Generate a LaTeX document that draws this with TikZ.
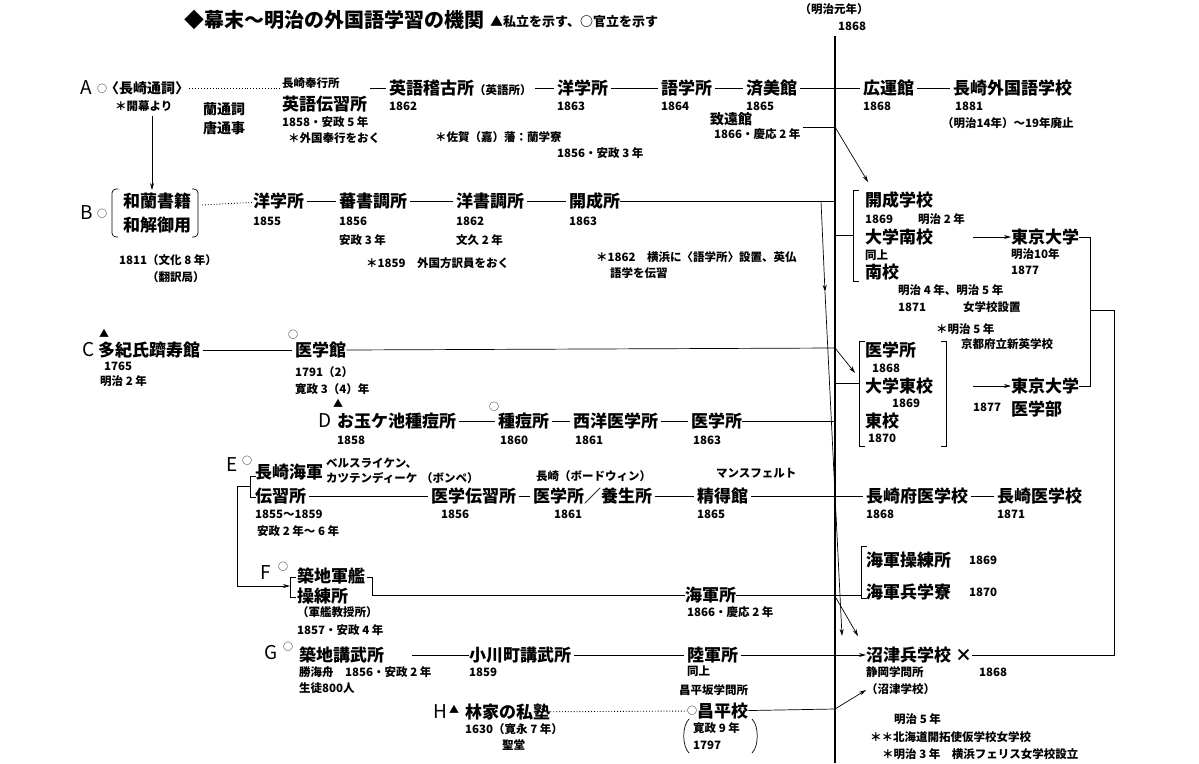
\documentclass[tikz,border=0pt]{standalone}
\usepackage{fontspec}
\setmainfont{Noto Sans CJK JP}
\usetikzlibrary{arrows.meta}

\newcommand\ftitle{\fontsize{20}{20}\selectfont\bfseries}
\newcommand\fbig{\fontsize{17}{17}\selectfont\bfseries}
\newcommand\fmid{\fontsize{14}{14}\selectfont\bfseries}
\newcommand\fsm{\fontsize{11.5}{12}\selectfont\bfseries}
\newcommand\flet{\fontsize{19}{19}\selectfont}
\newcommand\fring{\fontsize{10}{10}\selectfont}

\begin{document}
\begin{tikzpicture}[x=1pt, y=-1pt,
    inst/.style={anchor=west, inner sep=0pt, font=\fbig},
    note/.style={anchor=west, inner sep=0pt, font=\fsm},
    tag/.style={anchor=west, inner sep=0pt, font=\flet},
    ring/.style={anchor=west, inner sep=0pt, font=\fring},
    link/.style={line width=0.7pt, shorten <=3pt, shorten >=3pt},
    goes/.style={line width=0.7pt, -{Stealth[length=7pt, width=4pt]}},
    bra/.style={line width=0.7pt}]
        \fill[white] (0, 0) rectangle (1199, 763);
        \useasboundingbox (0, 0) rectangle (1199, 763);

        % heading
        \node[anchor=west, inner sep=0pt, font=\ftitle] (title) at (184, 20) {◆幕末～明治の外国語学習の機関};
        \node[style=note, font=\fontsize{13}{13}\selectfont\bfseries] (legend) at (490, 22) {▲私立を示す、○官立を示す};
        \node[style=note, anchor=center] (gannen) at (834, 9) {（明治元年）};
        \node[style=note, anchor=center] (y1868) at (852, 26) {1868};

        % 1868 line
        \coordinate (ttop) at (835, 36);
        \coordinate (tbot) at (835, 763);
        \draw[line width=2.2pt] (ttop) -- (tbot);

        % A
        \node[style=tag] (A) at (80, 88) {A};
        \node[style=ring] (Ao) at (97, 89) {○};
        \node[style=inst, font=\fmid] (tsuji) at (105, 88) {〈長崎通詞〉};
        \node[style=note] (kaibaku) at (115, 106) {＊開幕より};
        \node[style=note, font=\fmid] (rantsuji) at (203, 109) {蘭通詞};
        \node[style=note, font=\fmid] (totsuji) at (203, 128) {唐通事};
        \node[style=note] (bugyo) at (282, 83) {長崎奉行所};
        \node[style=inst] (denshu) at (282, 104) {英語伝習所};
        \node[style=note] at (282, 122) {1858・安政 5 年};
        \node[style=note] at (288, 138) {＊外国奉行をおく};
        \node[style=inst] (keiko) at (389, 88) {英語稽古所{\fsm（英語所）}};
        \node[style=note] at (389, 106) {1862};
        \node[style=inst] (yogakuA) at (557, 88) {洋学所};
        \node[style=note] at (557, 106) {1863};
        \node[style=inst] (gogaku) at (661, 88) {語学所};
        \node[style=note] at (661, 106) {1864};
        \node[style=inst] (seibi) at (746, 88) {済美館};
        \node[style=note] at (746, 106) {1865};
        \node[style=inst] (kounkan) at (863, 88) {広運館};
        \node[style=note] at (863, 106) {1868};
        \node[style=inst] (gaigo) at (953, 88) {長崎外国語学校};
        \node[style=note] at (955, 106) {1881};
        \node[style=note] at (942, 123) {（明治14年）～19年廃止};
        \node[style=note] at (435, 137) {＊佐賀（嘉）藩：蘭学寮};
        \node[style=note] at (557, 153) {1856・安政 3 年};
        \node[style=note, font=\fmid] (chien) at (710, 119) {致遠館};
        \node[style=note] (chienY) at (714, 134) {1866・慶応 2 年};

        \draw[dotted, line width=0.9pt] (tsuji) -- (bugyo.west |- tsuji);
        \draw[style=link]
            (denshu.east |- keiko) edge (keiko)
            (keiko) edge (yogakuA)
            (yogakuA) edge (gogaku)
            (gogaku) edge (seibi)
            (seibi) edge (kounkan)
            (kounkan) edge (gaigo)
        ;

        \coordinate (chienE) at (803, 127);
        \coordinate (chienT) at (835, 127);
        \coordinate (kaiseiIn) at (868, 182);
        \draw[style=bra] (chienE) -- (chienT);
        \draw[style=goes] (chienT) -- (kaiseiIn);

        \coordinate (aDown) at (152, 116);
        \coordinate (bUp) at (152, 190);
        \draw[style=goes] (aDown) -- (bUp);

        % B
        \node[style=tag] (B) at (80, 213) {B};
        \node[style=ring] (Bo) at (97, 214) {○};
        \node[style=inst] (waran) at (123, 201) {和蘭書籍};
        \node[style=inst] (wage) at (123, 225) {和解御用};
        \draw[style=bra, rounded corners=4pt] (118, 189) -- (112, 189) -- (112, 237) -- (118, 237);
        \draw[style=bra, rounded corners=4pt] (192, 189) -- (198, 189) -- (198, 237) -- (192, 237);
        \node[style=note] at (119, 260) {1811（文化 8 年）};
        \node[style=note] at (147, 277) {（翻訳局）};
        \coordinate (wageE) at (202, 205);
        \node[style=inst] (yogakuB) at (253, 201) {洋学所};
        \node[style=note] at (253, 221) {1855};
        \node[style=inst] (bansho) at (339, 201) {蕃書調所};
        \node[style=note] at (339, 221) {1856};
        \node[style=note] at (339, 240) {安政 3 年};
        \node[style=inst] (yosho) at (456, 201) {洋書調所};
        \node[style=note] at (456, 221) {1862};
        \node[style=note] at (456, 240) {文久 2 年};
        \node[style=inst] (kaiseisho) at (569, 201) {開成所};
        \node[style=note] at (569, 221) {1863};
        \node[style=note] at (366, 263) {＊1859　外国方訳員をおく};
        \node[style=note] at (596, 257) {＊1862　横浜に〈語学所〉設置、英仏};
        \node[style=note] at (610, 273) {語学を伝習};
        \coordinate (kaiseiT) at (835, 201);

        \draw[dotted, line width=0.9pt] (wageE) -- (yogakuB);
        \draw[style=link]
            (yogakuB) edge (bansho)
            (bansho) edge (yosho)
            (yosho) edge (kaiseisho)
        ;
        \draw[style=bra] (kaiseisho) -- (kaiseiT);

        \coordinate (numaS) at (821, 201);
        \coordinate (numaM) at (825, 292);
        \coordinate (numaE) at (842, 636);
        \draw[style=goes] (numaS) -- (numaM);
        \draw[style=goes] (numaM) -- (numaE);

        % Kaisei gakko group
        \draw[style=bra] (859, 190) -- (853, 190) -- (853, 281) -- (859, 281);
        \coordinate (nankoT) at (835, 235);
        \coordinate (nankoB) at (853, 235);
        \draw[style=bra] (nankoT) -- (nankoB);
        \node[style=inst] (kaiseiG) at (865, 200) {開成学校};
        \node[style=note] at (865, 219) {1869};
        \node[style=note] at (918, 219) {明治 2 年};
        \node[style=inst] (daiNan) at (865, 237) {大学南校};
        \node[style=note] at (865, 255) {同上};
        \node[style=inst] (nanko) at (865, 272) {南校};
        \node[style=note] at (898, 290) {明治 4 年、明治 5 年};
        \node[style=note] at (898, 307) {1871};
        \node[style=note] at (963, 307) {女学校設置};
        \node[style=inst] (todai) at (1011, 237) {東京大学};
        \node[style=note] at (1011, 254) {明治10年};
        \node[style=note] at (1011, 270) {1877};
        \coordinate (nanArr) at (973, 237);
        \draw[style=goes] (nanArr) -- (todai);
        \node[style=note] at (936, 329) {＊明治 5 年};
        \node[style=note] at (961, 344) {京都府立新英学校};

        % C
        \node[style=ring] at (99, 333) {▲};
        \node[style=tag] (C) at (82, 350) {C};
        \node[style=inst] (taki) at (98, 350) {多紀氏躋寿館};
        \node[style=note] at (104, 366) {1765};
        \node[style=note] at (100, 381) {明治 2 年};
        \node[style=ring] at (288, 335) {○};
        \node[style=inst] (igakukan) at (295, 350) {医学館};
        \node[style=note] at (295, 372) {1791（2）};
        \node[style=note] at (295, 389) {寛政 3（4）年};
        \coordinate (igakuT) at (835, 348);
        \coordinate (tokoIn) at (855, 373);
        \draw[style=link] (taki) -- (igakukan);
        \draw[style=bra] (igakukan.east) -- (igakuT);
        \draw[style=goes] (igakuT) -- (tokoIn);

        % D
        \node[style=ring] at (333, 403) {▲};
        \node[style=tag] (D) at (318, 421) {D};
        \node[style=inst] (otama) at (337, 421) {お玉ケ池種痘所};
        \node[style=note] at (337, 440) {1858};
        \node[style=ring] at (489, 407) {○};
        \node[style=inst] (shutou) at (498, 421) {種痘所};
        \node[style=note] at (500, 440) {1860};
        \node[style=inst] (seiyou) at (573, 421) {西洋医学所};
        \node[style=note] at (575, 440) {1861};
        \node[style=inst] (igakusho) at (691, 421) {医学所};
        \node[style=note] at (693, 440) {1863};
        \coordinate (igakuDT) at (835, 421);
        \draw[style=link]
            (otama) edge (shutou)
            (shutou) edge (seiyou)
            (seiyou) edge (igakusho)
        ;
        \draw[style=bra] (igakusho) -- (igakuDT);

        % Daigaku toko group
        \draw[style=bra] (865, 341) -- (859, 341) -- (859, 446) -- (865, 446);
        \draw[style=bra] (941, 341) -- (946, 341) -- (946, 446) -- (941, 446);
        \coordinate (tokoT) at (835, 383);
        \coordinate (tokoB) at (859, 383);
        \draw[style=bra] (tokoT) -- (tokoB);
        \node[style=inst] (igakuG) at (865, 350) {医学所};
        \node[style=note] at (872, 368) {1868};
        \node[style=inst] (daiTo) at (865, 386) {大学東校};
        \node[style=note] at (892, 403) {1869};
        \node[style=inst] (toko) at (865, 421) {東校};
        \node[style=note] at (868, 438) {1870};
        \node[style=inst] (todai2) at (1011, 386) {東京大学};
        \node[style=inst] at (1011, 409) {医学部};
        \node[style=note] at (973, 407) {1877};
        \coordinate (toArr) at (973, 386);
        \draw[style=goes] (toArr) -- (todai2);

        % E
        \node[style=tag] (E) at (226, 465) {E};
        \node[style=ring] at (242, 461) {○};
        \draw[style=bra] (256, 476) -- (250, 476) -- (250, 497) -- (256, 497);
        \node[style=inst] (kaigunD) at (255, 472) {長崎海軍};
        \node[style=inst] (denshujo) at (255, 496) {伝習所};
        \node[style=note] at (255, 514) {1855～1859};
        \node[style=note] at (257, 531) {安政 2 年～ 6 年};
        \node[style=note] at (326, 463) {ベルスライケン、};
        \node[style=note] at (326, 478) {カツテンディーケ};
        \node[style=note] at (421, 478) {（ボンペ）};
        \node[style=inst] (igakuDen) at (431, 496) {医学伝習所};
        \node[style=note] at (441, 514) {1856};
        \node[style=note] at (536, 476) {長崎（ボードウィン）};
        \node[style=inst] (yojo) at (533, 496) {医学所／養生所};
        \node[style=note] at (554, 514) {1861};
        \node[style=note] at (716, 473) {マンスフェルト};
        \node[style=inst] (seitoku) at (697, 496) {精得館};
        \node[style=note] at (697, 514) {1865};
        \node[style=inst] (fuigaku) at (866, 496) {長崎府医学校};
        \node[style=note] at (866, 514) {1868};
        \node[style=inst] (naIgaku) at (997, 496) {長崎医学校};
        \node[style=note] at (997, 514) {1871};
        \draw[style=link]
            (denshujo) edge (igakuDen)
            (igakuDen) edge (yojo)
            (yojo) edge (seitoku)
            (seitoku) edge (fuigaku)
            (fuigaku) edge (naIgaku)
        ;
        \coordinate (eL) at (250, 486);
        \coordinate (eTurn) at (237, 486);
        \coordinate (fIn) at (290, 586);
        \draw[style=goes] (eL) -- (eTurn) |- (fIn);

        % F
        \node[style=tag] (F) at (260, 573) {F};
        \node[style=ring] at (278, 567) {○};
        \draw[style=bra] (296, 577) -- (290, 577) -- (290, 597) -- (296, 597);
        \draw[style=bra] (367, 577) -- (372, 577) -- (372, 595);
        \node[style=inst] (tsukijiK) at (297, 576) {築地軍艦};
        \node[style=inst] (soren) at (297, 596) {操練所};
        \node[style=note] at (297, 612) {（軍艦教授所）};
        \node[style=note] at (297, 630) {1857・安政 4 年};
        \coordinate (sorenE) at (372, 595);
        \node[style=inst] (kaigunsho) at (685, 595) {海軍所};
        \node[style=note] at (687, 612) {1866・慶応 2 年};
        \coordinate (heiIn) at (861, 595);
        \draw[style=bra] (sorenE) -- (kaigunsho);
        \draw[style=bra] (kaigunsho) -- (heiIn);

        % Kaigun heigakuryo group
        \draw[style=bra] (867, 546) -- (861, 546) -- (861, 598) -- (867, 598);
        \node[style=inst] (kaigunS) at (866, 560) {海軍操練所};
        \node[style=note] at (969, 560) {1869};
        \node[style=inst] (kaigunH) at (866, 592) {海軍兵学寮};
        \node[style=note] at (969, 592) {1870};
        \coordinate (kaigunT) at (836, 598);
        \coordinate (numaIn) at (858, 636);
        \draw[style=goes] (kaigunT) -- (numaIn);

        % G
        \node[style=tag] (G) at (264, 653) {G};
        \node[style=ring] at (283, 647) {○};
        \node[style=inst] (kobusho) at (299, 655) {築地講武所};
        \node[style=note] at (299, 672) {勝海舟　1856・安政 2 年};
        \node[style=note] at (299, 688) {生徒800人};
        \coordinate (gStart) at (412, 655);
        \node[style=inst] (ogawa) at (469, 655) {小川町講武所};
        \node[style=note] at (469, 672) {1859};
        \node[style=inst] (rikugun) at (687, 655) {陸軍所};
        \node[style=note] at (687, 671) {同上};
        \node[style=inst] (numazu) at (866, 655) {沼津兵学校 ×};
        \node[style=note] at (866, 672) {静岡学問所};
        \node[style=note] at (979, 672) {1868};
        \node[style=note] at (866, 689) {（沼津学校）};
        \draw[style=bra] (gStart) -- (ogawa);
        \draw[style=link] (ogawa) -- (rikugun);
        \draw[style=goes, shorten <=3pt] (rikugun) -- (numazu);

        % Tokyo daigaku link
        \coordinate (joinX) at (1090, 310);
        \coordinate (farR) at (1114, 655);
        \draw[style=bra] (todai.east) -| (joinX) |- (todai2.east);
        \draw[style=bra] (joinX) -| (farR) -- (numazu.east);

        % H
        \node[style=tag] (H) at (433, 712) {H};
        \node[style=ring] at (449, 709) {▲};
        \node[style=inst] (shijuku) at (465, 712) {林家の私塾};
        \node[style=note] at (465, 729) {1630（寛永 7 年）};
        \node[style=note] at (502, 745) {聖堂};
        \node[style=note] at (679, 690) {昌平坂学問所};
        \node[style=ring] (shoheiO) at (687, 711) {○};
        \node[style=inst] (shohei) at (697, 711) {昌平校};
        \node[style=note] at (693, 728) {寛政 9 年};
        \node[style=note] at (693, 745) {1797};
        \draw[style=bra] (689, 719) .. controls (682, 726) and (682, 746) .. (689, 753);
        \draw[style=bra] (752, 719) .. controls (759, 726) and (759, 746) .. (752, 753);
        \coordinate (shoheiT) at (835, 709);
        \coordinate (numaIn2) at (866, 690);
        \draw[dotted, line width=0.9pt] (shijuku) -- (shoheiO);
        \draw[style=bra] (shohei) -- (shoheiT);
        \draw[style=goes] (shoheiT) -- (numaIn2);

        % notes
        \node[style=note] at (894, 719) {明治 5 年};
        \node[style=note] at (870, 737) {＊＊北海道開拓使仮学校女学校};
        \node[style=note] at (882, 754) {＊明治 3 年　横浜フェリス女学校設立};
    \end{tikzpicture}
\end{document}
